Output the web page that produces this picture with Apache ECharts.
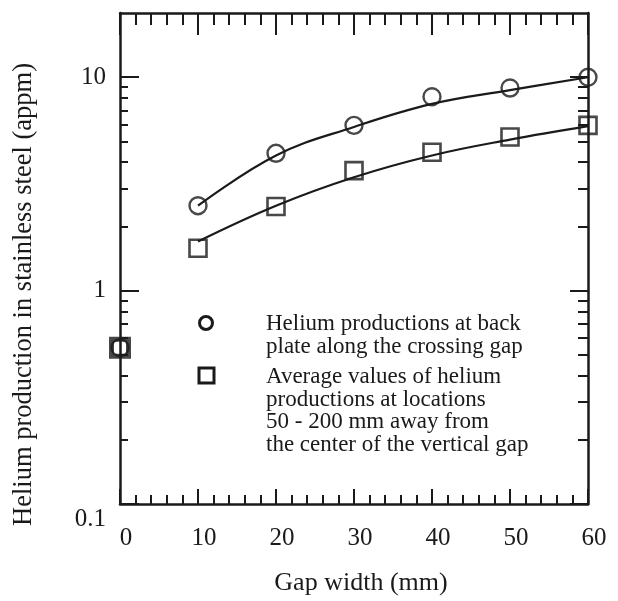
<!DOCTYPE html>
<html>
<head>
<meta charset="utf-8">
<script src="https://cdn.jsdelivr.net/npm/echarts@6/dist/echarts.min.js"></script>
<style>
  html, body { margin: 0; padding: 0; background: #fff; }
  #chart { width: 618px; height: 601px; }
</style>
</head>
<body>
<div id="chart"></div>
<script>
'use strict';

// gap width (mm) at each measured point
const gapWidths = [0, 10, 20, 30, 40, 50, 60];
// helium production at back plate along the crossing gap (appm)
const backPlateValues = [0.54, 2.5, 4.4, 5.95, 8.1, 8.9, 10.0];
// average helium production 50 - 200 mm from vertical gap centre (appm)
const averageValues = [0.54, 1.58, 2.48, 3.65, 4.45, 5.25, 5.95];

// hand-drawn fit curves
const fitGaps = [10, 20, 30, 40, 50, 60];
const backPlateFit = [2.5, 4.3, 5.85, 7.5, 8.7, 10.0];
const averageFit = [1.7, 2.5, 3.4, 4.3, 5.1, 5.9];

const xTickLabels = [0, 10, 20, 30, 40, 50, 60];
const yMajorTicks = [0.1, 1, 10];
const yMinorTicks = [0.2, 0.3, 0.4, 0.5, 0.6, 0.7, 0.8, 0.9, 2, 3, 4, 5, 6, 7, 8, 9];

const legendLines = [
    'Helium productions at back\nplate along the crossing gap',
    'Average values of helium\nproductions at locations\n50 - 200 mm away from\nthe center of the vertical gap',
];

const ink = '#1a1a1a';
const serif = '"Liberation Serif", "Times New Roman", serif';

document.addEventListener('DOMContentLoaded', () => {
    const chart = echarts.init(document.getElementById('chart'));

    const pairs = (xs, ys) => xs.map((x, i) => [x, ys[i]]);
    const markers = (xs, ys) => pairs(xs, ys).map((p) =>
        p[0] === 0 ? { value: p, itemStyle: { borderWidth: 5 } } : p);

    const frame = { show: true, lineStyle: { color: ink, width: 2.5 } };

    const xAxisBase = {
        type: 'value',
        min: 0,
        max: 60,
        interval: 10,
        axisLine: frame,
        splitLine: { show: false },
    };

    const yAxisBase = (position, tickValues, len, labels) => ({
        type: 'log',
        logBase: 10,
        min: 0.1,
        max: 20,
        position: position,
        axisLine: labels ? frame : { show: false },
        splitLine: { show: false },
        axisTick: {
            show: true, inside: true, length: len,
            customValues: tickValues,
            lineStyle: { color: ink, width: 2 },
        },
        axisLabel: labels ? {
            show: true,
            customValues: yMajorTicks,
            margin: 14,
            fontFamily: serif,
            fontSize: 25,
            color: ink,
            formatter: (v) => v === 0.1 ? '{low|0.1}' : String(v),
            rich: { low: { fontFamily: serif, fontSize: 25, color: ink, padding: [30, 0, 0, 0] } },
        } : { show: false },
    });

    chart.setOption({
        animation: false,
        backgroundColor: '#fff',
        grid: { left: 120, right: 30, top: 13, bottom: 93 },
        xAxis: [
            Object.assign({}, xAxisBase, {
                position: 'bottom',
                name: 'Gap width (mm)',
                nameLocation: 'middle',
                nameGap: 66,
                nameTextStyle: { fontFamily: serif, fontSize: 26, color: ink, padding: [0, 0, 0, 14] },
                axisTick: { show: true, inside: true, length: 15, lineStyle: { color: ink, width: 2 } },
                minorTick: { show: true, splitNumber: 5, length: 9, lineStyle: { color: ink, width: 2 } },
                axisLabel: {
                    show: true, margin: 22, fontFamily: serif, fontSize: 25, color: ink,
                    padding: [0, 0, 0, 12],
                    customValues: xTickLabels,
                },
            }),
            Object.assign({}, xAxisBase, {
                position: 'top',
                axisTick: { show: true, inside: true, length: 22, lineStyle: { color: ink, width: 2 } },
                minorTick: { show: true, splitNumber: 5, length: 12, lineStyle: { color: ink, width: 2 } },
                axisLabel: { show: false },
            }),
        ],
        yAxis: [
            Object.assign(yAxisBase('left', yMajorTicks, 19, true), {
                name: 'Helium production in stainless steel (appm)',
                nameLocation: 'middle',
                nameRotate: 90,
                nameGap: 82,
                nameTextStyle: { fontFamily: serif, fontSize: 26.5, color: ink, padding: [0, 72, 0, 0] },
            }),
            yAxisBase('left', yMinorTicks, 8, false),
            Object.assign(yAxisBase('right', yMajorTicks, 18, false), { axisLine: frame }),
            yAxisBase('right', yMinorTicks, 10, false),
        ],
        graphic: [
            {
                type: 'circle', silent: true,
                shape: { cx: 206, cy: 323, r: 6.5 },
                style: { fill: 'none', stroke: ink, lineWidth: 3 },
            },
            {
                type: 'rect', silent: true,
                shape: { x: 199, y: 368, width: 15, height: 15 },
                style: { fill: 'none', stroke: ink, lineWidth: 3 },
            },
            {
                type: 'text', silent: true, x: 266, y: 313,
                style: { text: legendLines[0], font: '23px ' + serif, fill: ink, lineHeight: 22.5, textVerticalAlign: 'top' },
            },
            {
                type: 'text', silent: true, x: 266, y: 366,
                style: { text: legendLines[1], font: '23px ' + serif, fill: ink, lineHeight: 22.5, textVerticalAlign: 'top' },
            },
        ],
        series: [
            {
                type: 'line', smooth: 0.4, showSymbol: false, silent: true,
                data: pairs(fitGaps, backPlateFit),
                lineStyle: { color: ink, width: 2.2 },
            },
            {
                type: 'line', smooth: 0.4, showSymbol: false, silent: true,
                data: pairs(fitGaps, averageFit),
                lineStyle: { color: ink, width: 2.2 },
            },
            {
                type: 'scatter', symbol: 'rect', symbolSize: 17,
                data: markers(gapWidths, averageValues),
                itemStyle: { color: 'rgba(255,255,255,0)', borderColor: ink, borderWidth: 2.6 },
                z: 3,
            },
            {
                type: 'scatter', symbol: 'circle', symbolSize: 17,
                data: pairs(gapWidths, backPlateValues),
                itemStyle: { color: 'rgba(255,255,255,0)', borderColor: ink, borderWidth: 2.4 },
                z: 4,
            },
        ],
    });
});
</script>
</body>
</html>
